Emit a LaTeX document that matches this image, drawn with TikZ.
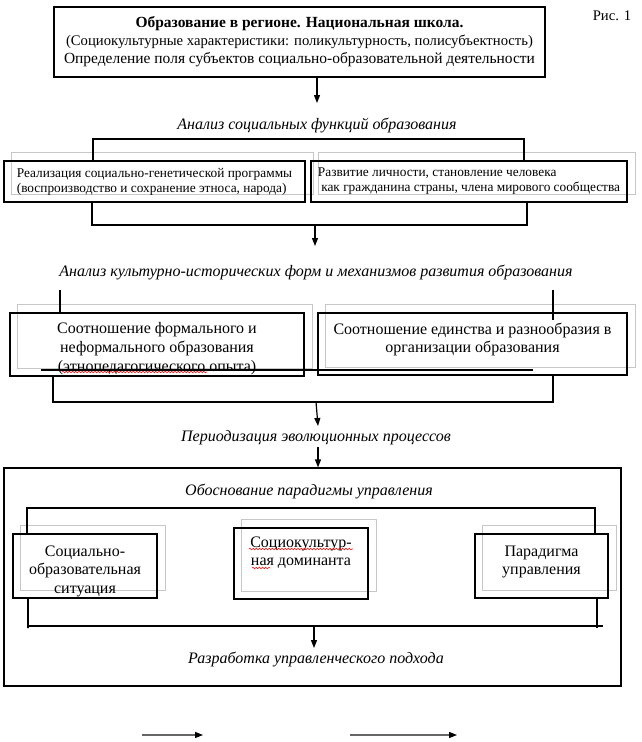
\documentclass[tikz,border=0pt]{standalone}
\usepackage{fontspec}
\setmainfont{Liberation Serif}
\usetikzlibrary{arrows.meta,backgrounds,decorations.pathmorphing}
\newcommand\pushdown[1]{\rule{0pt}{#1}}
\tikzset{>={Triangle[length=6pt,width=4.5pt]},
box/.style={rectangle, draw, inner sep=0pt, align=center, font=\fontsize{12}{14}\selectfont},
smallbox/.style={box, align=left, font=\fontsize{10}{11.3}\selectfont},
shadebox/.style={draw=black!22, line width=0.8pt},
lbl/.style={inner sep=0pt, font=\fontsize{12}{14}\selectfont\itshape},
flow/.style={->},
keyline/.style={draw=black!60, -{Triangle[length=6pt,width=4.5pt,color=black]}},
spell/.style={draw=red, line width=0.4pt, decorate, decoration={snake, amplitude=0.6pt, segment length=2.4pt}}}

\begin{document}
\begin{tikzpicture}[x=0.75pt, y=-0.75pt, line width=0.9pt]
    \useasboundingbox (0,0) rectangle (642,742);

    % Nodes
    \node[box, minimum width=368.25pt, minimum height=52.5pt, font=\fontsize{11.6}{13.5}\selectfont] (region) at (299.5,42)
        {\textbf{Образование в регионе. Национальная школа.}\\{\fontsize{11}{13.5}\selectfont(Социокультурные характеристики: поликультурность, полисубъектность)}\\Определение поля субъектов социально-образовательной деятельности};
    \node[inner sep=0pt, font=\fontsize{11}{13}\selectfont] (fig) at (612,16) {Рис. 1};

    \node[lbl] (functions) at (317,125) {Анализ социальных функций образования};
    \node[smallbox, minimum width=225.75pt, minimum height=30.75pt] (genetic) at (154.5,181.5)
        {Реализация социально-генетической программы\\(воспроизводство и сохранение этноса, народа)};
    \node[smallbox, minimum width=237pt, minimum height=30.75pt] (personal) at (469,181.5)
        {Развитие личности, становление человека\\\hspace{0.25em}как гражданина страны, члена мирового сообщества};

    \node[lbl] (forms) at (316,272) {Анализ культурно-исторических форм и механизмов развития образования};
    \node[box, minimum width=220.5pt, minimum height=47.25pt] (formal) at (157,344.5)
        {\pushdown{14.5pt}Соотношение формального и\\неформального образования\\(этнопедагогического опыта)};
    \node[box, minimum width=231.75pt, minimum height=46.5pt] (unity) at (472.5,344)
        {\pushdown{13pt}Соотношение единства и разнообразия в\\организации образования\\\mbox{}};

    \node[lbl] (periods) at (316,438) {Периодизация эволюционных процессов};
    \node[draw, inner sep=0pt, minimum width=462.75pt, minimum height=163.5pt] (frame) at (312.5,577) {};
    \node[lbl] (paradigm) at (309,491) {Обоснование парадигмы управления};
    \node[box, minimum width=108pt, minimum height=48pt] (situation) at (85,566)
        {\pushdown{15.8pt}Социально-\\образовательная\\ситуация};
    \node[box, minimum width=100.5pt, minimum height=53.25pt] (dominant) at (301,563.5)
        {Социокультур-\\ная доминанта\\[4.5pt]\mbox{}};
    \node[box, minimum width=99.75pt, minimum height=48pt] (control) at (541.5,566)
        {\pushdown{13pt}Парадигма\\управления\\\mbox{}};
    \node[lbl] (approach) at (316,659) {Разработка управленческого подхода};

    % Shadows
    \begin{scope}[on background layer]
        \foreach \b in {genetic,personal,formal,unity,situation,dominant,control}
            \draw[shadebox] ([shift={(8,-8)}]\b.north west) rectangle ([shift={(8,-8)}]\b.south east);
    \end{scope}

    % Coordinates
    \coordinate (a1) at (317,103);
    \coordinate (b1l) at (93,139);  \coordinate (b1r) at (524,139);
    \coordinate (b2l) at (92,225);  \coordinate (b2r) at (527,225);
    \coordinate (b2m) at (315,225); \coordinate (a2) at (315,246);
    \coordinate (c1l) at (60,290);  \coordinate (c1r) at (553,290);
    \coordinate (c1e) at (553,320);
    \coordinate (u1) at (41,370);   \coordinate (u2) at (533,370);
    \coordinate (c2l) at (53,402);  \coordinate (c2r) at (553,402);
    \coordinate (c2m) at (316,402); \coordinate (a3) at (318,426);
    \coordinate (a4) at (318,447);
    \coordinate (d1l) at (27,508);  \coordinate (d1r) at (595,508);
    \coordinate (d2l) at (28,626);  \coordinate (d2r) at (603,626);
    \coordinate (d2v) at (597,628);
    \coordinate (d2m) at (314,626); \coordinate (a5) at (314,648);
    \coordinate (k1) at (142,735);  \coordinate (k2) at (203,735);
    \coordinate (k3) at (350,735);  \coordinate (k4) at (457,735);

    % Edges
    \draw[flow] (region.south -| a1) -- (a1);
    \draw (genetic.north -| b1l) -- (b1l) -- (b1r) -- (personal.north -| b1r);
    \draw (genetic.south -| b2l) -- (b2l) -- (b2r) -- (personal.south -| b2r);
    \draw[flow] (b2m) -- (a2);
    \draw (c1l) -- (formal.north -| c1l);
    \draw (c1r) -- (c1e);
    \draw[line width=0.8pt] (u1) -- (u2);
    \draw (formal.south -| c2l) -- (c2l) -- (c2r) -- (unity.south -| c2r);
    \draw[flow] (c2m) -- (a3);
    \draw[flow] (a4) -- (frame.north -| a4);
    \draw (situation.north -| d1l) -- (d1l) -- (d1r) -- (control.north -| d1r);
    \draw (situation.south -| d2l) -- ([yshift=-1.5pt]d2l) -- (d2l) -- (d2r);
    \draw (control.south -| d2v) -- (d2v);
    \draw[flow] (d2m) -- (a5);
    \draw[keyline] (k1) -- (k2);
    \draw[keyline] (k3) -- (k4);

    % Spelling marks
    \draw[spell] (62,372) -- (207,372);
    \draw[spell] (249,549) -- (353,549);
    \draw[spell] (252,568) -- (270,568);
\end{tikzpicture}
\end{document}
